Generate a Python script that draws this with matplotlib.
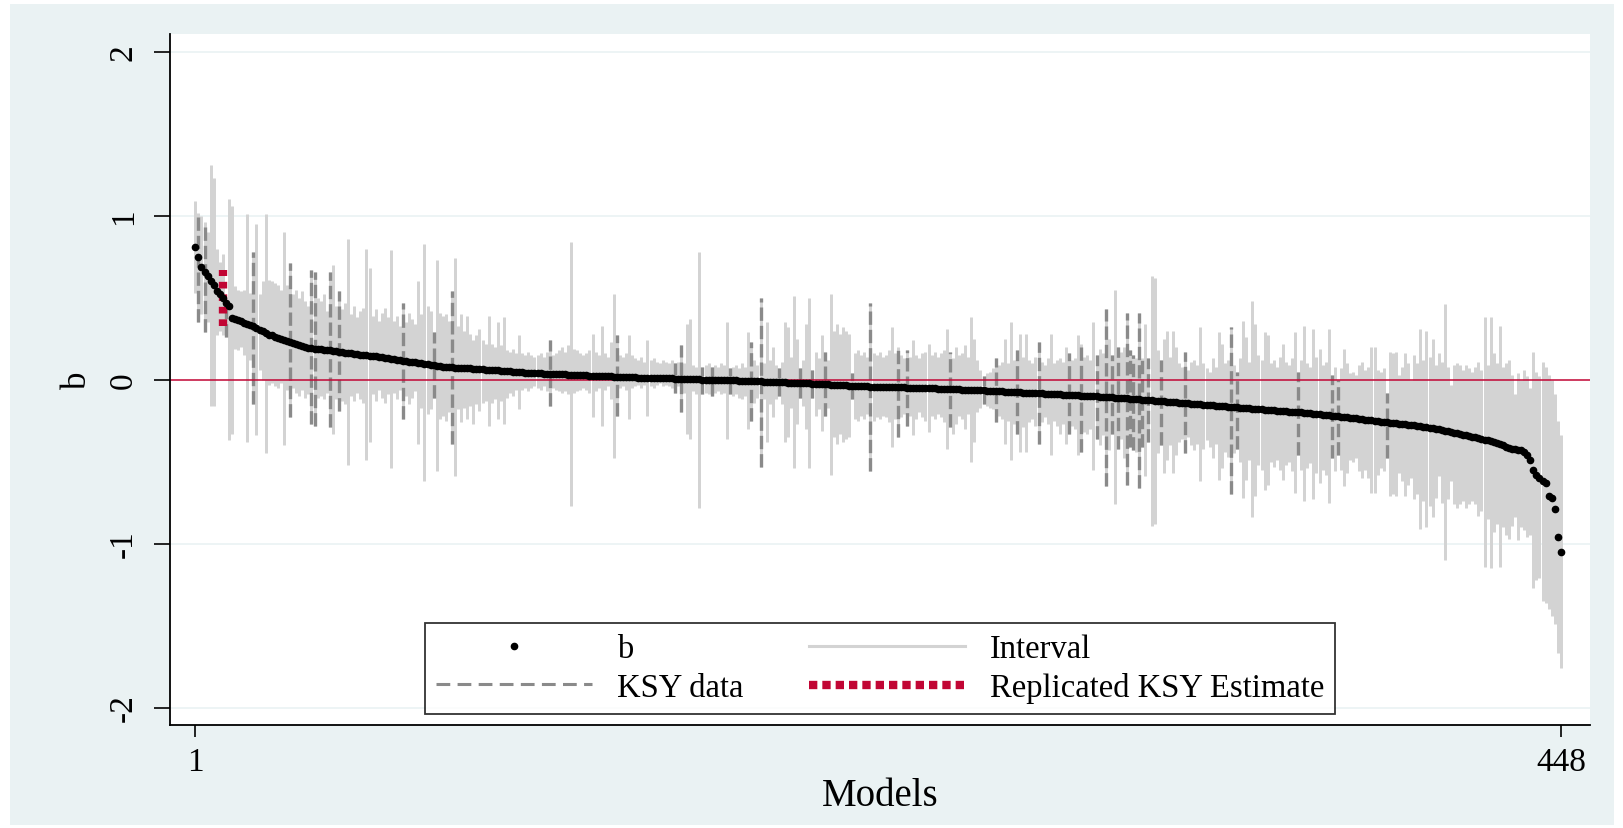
import numpy as np
import matplotlib
matplotlib.use("Agg")
import matplotlib.pyplot as plt
from matplotlib.lines import Line2D
from matplotlib.patches import Rectangle

plt.rcParams['font.family'] = ['Liberation Serif', 'DejaVu Serif']

# ---- data ----
n_models = 448
models = np.arange(1, n_models + 1)

# point estimates b, sorted high -> low (16 per row)
b = [
    0.81, 0.75, 0.69, 0.66, 0.63, 0.60, 0.58, 0.54, 0.52, 0.50, 0.47, 0.45, 0.375, 0.37, 0.365, 0.36,
    0.345, 0.34, 0.335, 0.325, 0.315, 0.305, 0.295, 0.285, 0.275, 0.27, 0.262, 0.255, 0.248, 0.24, 0.235, 0.23,
    0.225, 0.22, 0.213, 0.207, 0.2, 0.195, 0.192, 0.19, 0.188, 0.186, 0.184, 0.182, 0.18, 0.178, 0.175, 0.172,
    0.169, 0.166, 0.163, 0.16, 0.157, 0.155, 0.152, 0.15, 0.148, 0.146, 0.144, 0.142, 0.14, 0.138, 0.135, 0.132,
    0.129, 0.126, 0.123, 0.12, 0.117, 0.114, 0.111, 0.108, 0.106, 0.104, 0.1, 0.097, 0.094, 0.091, 0.088, 0.086,
    0.083, 0.08, 0.078, 0.076, 0.075, 0.074, 0.073, 0.072, 0.071, 0.07, 0.069, 0.068, 0.066, 0.065, 0.063, 0.062,
    0.061, 0.06, 0.058, 0.057, 0.055, 0.054, 0.052, 0.051, 0.05, 0.049, 0.047, 0.046, 0.044, 0.042, 0.041, 0.04,
    0.039, 0.038, 0.037, 0.036, 0.035, 0.035, 0.034, 0.033, 0.032, 0.032, 0.031, 0.03, 0.029, 0.028, 0.027, 0.026,
    0.026, 0.025, 0.024, 0.024, 0.023, 0.022, 0.021, 0.021, 0.02, 0.019, 0.018, 0.018, 0.017, 0.016, 0.015, 0.015,
    0.014, 0.013, 0.013, 0.012, 0.012, 0.011, 0.011, 0.01, 0.01, 0.009, 0.009, 0.008, 0.008, 0.007, 0.006, 0.006,
    0.005, 0.004, 0.004, 0.003, 0.003, 0.002, 0.001, 0.001, 0.0, -0.0, -0.001, -0.001, -0.002, -0.002, -0.003, -0.003,
    -0.004, -0.004, -0.005, -0.006, -0.006, -0.007, -0.008, -0.009, -0.009, -0.01, -0.011, -0.012, -0.012, -0.013, -0.014, -0.015,
    -0.016, -0.016, -0.017, -0.018, -0.019, -0.02, -0.02, -0.021, -0.022, -0.023, -0.024, -0.025, -0.026, -0.027, -0.028, -0.029,
    -0.03, -0.031, -0.032, -0.033, -0.034, -0.035, -0.036, -0.037, -0.038, -0.039, -0.04, -0.04, -0.041, -0.042, -0.042, -0.043,
    -0.043, -0.044, -0.044, -0.045, -0.045, -0.046, -0.046, -0.047, -0.047, -0.048, -0.048, -0.049, -0.049, -0.05, -0.05, -0.051,
    -0.051, -0.052, -0.053, -0.054, -0.054, -0.055, -0.056, -0.057, -0.057, -0.058, -0.059, -0.06, -0.06, -0.061, -0.062, -0.063,
    -0.064, -0.064, -0.065, -0.066, -0.067, -0.068, -0.069, -0.07, -0.071, -0.072, -0.073, -0.074, -0.075, -0.076, -0.077, -0.078,
    -0.079, -0.08, -0.081, -0.082, -0.083, -0.084, -0.085, -0.086, -0.087, -0.088, -0.089, -0.09, -0.091, -0.092, -0.093, -0.094,
    -0.095, -0.096, -0.097, -0.098, -0.099, -0.1, -0.101, -0.102, -0.103, -0.105, -0.106, -0.107, -0.108, -0.109, -0.11, -0.111,
    -0.113, -0.114, -0.116, -0.117, -0.119, -0.12, -0.122, -0.123, -0.125, -0.126, -0.128, -0.129, -0.131, -0.132, -0.134, -0.135,
    -0.137, -0.138, -0.14, -0.141, -0.143, -0.144, -0.146, -0.147, -0.149, -0.15, -0.152, -0.153, -0.155, -0.156, -0.158, -0.159,
    -0.161, -0.162, -0.164, -0.165, -0.167, -0.168, -0.17, -0.171, -0.173, -0.174, -0.176, -0.177, -0.179, -0.18, -0.182, -0.183,
    -0.185, -0.186, -0.188, -0.189, -0.191, -0.192, -0.194, -0.195, -0.197, -0.198, -0.2, -0.202, -0.204, -0.206, -0.208, -0.21,
    -0.212, -0.214, -0.216, -0.218, -0.22, -0.222, -0.224, -0.226, -0.228, -0.23, -0.232, -0.234, -0.236, -0.238, -0.24, -0.243,
    -0.245, -0.247, -0.25, -0.252, -0.255, -0.257, -0.259, -0.262, -0.264, -0.266, -0.268, -0.27, -0.272, -0.274, -0.276, -0.279,
    -0.282, -0.285, -0.288, -0.291, -0.294, -0.297, -0.3, -0.303, -0.307, -0.311, -0.315, -0.319, -0.323, -0.327, -0.331, -0.335,
    -0.339, -0.343, -0.347, -0.351, -0.355, -0.36, -0.365, -0.37, -0.375, -0.38, -0.385, -0.39, -0.4, -0.41, -0.415, -0.42,
    -0.425, -0.428, -0.43, -0.44, -0.46, -0.49, -0.55, -0.58, -0.6, -0.62, -0.63, -0.71, -0.72, -0.79, -0.96, -1.05,
]

# interval upper ends
ci_hi = [
    1.09, 1.02, 1.00, 0.96, 0.90, 1.31, 1.23, 0.80, 0.72, 0.77, 0.46, 1.10, 1.06, 0.57, 0.55, 0.54,
    0.55, 1.01, 0.53, 0.78, 0.95, 0.52, 0.60, 1.01, 0.61, 0.60, 0.59, 0.58, 0.55, 0.90, 0.58, 0.71,
    0.52, 0.55, 0.50, 0.54, 0.48, 0.45, 0.67, 0.66, 0.50, 0.48, 0.52, 0.42, 0.66, 0.70, 0.45, 0.54,
    0.43, 0.47, 0.86, 0.40, 0.45, 0.38, 0.42, 0.44, 0.80, 0.68, 0.39, 0.43, 0.36, 0.41, 0.44, 0.38,
    0.79, 0.36, 0.39, 0.33, 0.47, 0.35, 0.41, 0.37, 0.34, 0.60, 0.40, 0.83, 0.45, 0.42, 0.29, 0.73,
    0.41, 0.39, 0.40, 0.36, 0.54, 0.74, 0.33, 0.40, 0.30, 0.39, 0.28, 0.24, 0.27, 0.31, 0.24, 0.22,
    0.39, 0.22, 0.20, 0.35, 0.21, 0.38, 0.18, 0.17, 0.19, 0.16, 0.27, 0.16, 0.15, 0.17, 0.15, 0.14,
    0.15, 0.16, 0.14, 0.17, 0.24, 0.15, 0.16, 0.18, 0.20, 0.17, 0.21, 0.84, 0.19, 0.18, 0.16, 0.15,
    0.16, 0.18, 0.28, 0.17, 0.15, 0.33, 0.16, 0.14, 0.23, 0.52, 0.27, 0.15, 0.14, 0.16, 0.27, 0.15,
    0.13, 0.12, 0.14, 0.11, 0.24, 0.12, 0.13, 0.11, 0.10, 0.12, 0.11, 0.10, 0.12, 0.10, 0.11, 0.21,
    0.10, 0.34, 0.37, 0.09, 0.08, 0.78, 0.08, 0.09, 0.10, 0.08, 0.09, 0.08, 0.10, 0.09, 0.35, 0.07,
    0.08, 0.09, 0.07, 0.10, 0.08, 0.29, 0.23, 0.12, 0.09, 0.50, 0.10, 0.35, 0.12, 0.20, 0.09, 0.07,
    0.11, 0.35, 0.32, 0.14, 0.51, 0.25, 0.07, 0.12, 0.34, 0.50, 0.06, 0.17, 0.13, 0.27, 0.17, 0.12,
    0.52, 0.30, 0.34, 0.28, 0.32, 0.30, 0.28, 0.04, 0.16, 0.18, 0.15, 0.17, 0.14, 0.47, 0.16, 0.15,
    0.17, 0.14, 0.15, 0.18, 0.32, 0.16, 0.20, 0.15, 0.13, 0.18, 0.14, 0.24, 0.15, 0.13, 0.16, 0.17,
    0.22, 0.15, 0.17, 0.14, 0.16, 0.18, 0.31, 0.17, 0.13, 0.20, 0.15, 0.16, 0.21, 0.14, 0.38, 0.25,
    0.12, 0.06, 0.02, 0.04, 0.05, 0.07, 0.13, 0.09, 0.11, 0.25, 0.10, 0.35, 0.12, 0.18, 0.28, 0.14,
    0.28, 0.12, 0.10, 0.14, 0.23, 0.11, 0.09, 0.13, 0.28, 0.10, 0.12, 0.13, 0.11, 0.20, 0.16, 0.12,
    0.13, 0.27, 0.22, 0.14, 0.15, 0.12, 0.35, 0.15, 0.19, 0.16, 0.43, 0.25, 0.15, 0.55, 0.20, 0.17,
    0.20, 0.41, 0.18, 0.15, 0.13, 0.41, 0.13, 0.34, 0.13, 0.63, 0.62, 0.18, 0.12, 0.25, 0.30, 0.14,
    0.30, 0.20, 0.10, 0.08, 0.17, 0.06, 0.11, 0.12, 0.09, 0.32, 0.10, 0.07, 0.05, 0.13, 0.08, 0.29,
    0.22, 0.10, 0.12, 0.32, 0.09, 0.05, 0.13, 0.36, 0.26, 0.11, 0.48, 0.34, 0.15, 0.12, 0.29, 0.27,
    0.10, 0.12, 0.08, 0.14, 0.22, 0.11, 0.09, 0.13, 0.29, 0.05, 0.12, 0.33, 0.10, 0.08, 0.31, 0.14,
    0.19, 0.09, 0.11, 0.31, 0.03, 0.08, 0.00, 0.07, 0.19, 0.10, 0.04, 0.05, 0.03, 0.09, 0.11, 0.06,
    0.08, 0.20, 0.20, 0.06, 0.05, 0.07, -0.08, 0.17, 0.16, 0.17, 0.03, 0.08, 0.16, 0.10, 0.00, 0.15,
    0.10, 0.31, 0.12, 0.30, 0.14, 0.25, 0.09, 0.16, 0.11, 0.46, 0.08, -0.03, 0.09, 0.10, 0.09, 0.06,
    0.09, 0.07, 0.05, 0.08, 0.11, 0.06, 0.38, 0.09, 0.38, 0.16, 0.10, 0.33, 0.08, 0.10, 0.12, 0.03,
    -0.09, 0.04, 0.00, 0.06, 0.02, -0.05, 0.17, 0.05, 0.02, 0.11, 0.08, 0.03, 0.00, -0.09, -0.25, -0.34,
]

# interval lower ends
ci_lo = [
    0.53, 0.35, 0.40, 0.29, 0.35, -0.16, -0.16, 0.27, 0.30, 0.27, 0.26, -0.37, -0.33, 0.19, 0.18, 0.20,
    0.15, -0.38, 0.12, -0.15, -0.34, 0.06, 0.00, -0.45, -0.03, -0.02, -0.04, -0.05, -0.02, -0.40, -0.06, -0.23,
    -0.05, -0.08, -0.10, -0.06, -0.11, -0.09, -0.27, -0.28, -0.11, -0.10, -0.12, -0.08, -0.29, -0.33, -0.12, -0.19,
    -0.13, -0.15, -0.52, -0.10, -0.13, -0.08, -0.12, -0.14, -0.49, -0.38, -0.09, -0.13, -0.06, -0.11, -0.14, -0.09,
    -0.54, -0.08, -0.12, -0.06, -0.24, -0.10, -0.15, -0.11, -0.07, -0.39, -0.17, -0.62, -0.21, -0.18, -0.11, -0.56,
    -0.24, -0.22, -0.25, -0.20, -0.39, -0.59, -0.18, -0.26, -0.17, -0.24, -0.16, -0.27, -0.15, -0.19, -0.14, -0.13,
    -0.28, -0.14, -0.12, -0.24, -0.13, -0.27, -0.11, -0.08, -0.10, -0.06, -0.18, -0.06, -0.05, -0.07, -0.05, -0.04,
    -0.05, -0.06, -0.04, -0.07, -0.16, -0.05, -0.06, -0.07, -0.08, -0.07, -0.09, -0.77, -0.08, -0.07, -0.06, -0.05,
    -0.06, -0.08, -0.23, -0.07, -0.05, -0.28, -0.06, -0.04, -0.12, -0.48, -0.22, -0.05, -0.04, -0.06, -0.24, -0.05,
    -0.04, -0.03, -0.05, -0.03, -0.22, -0.04, -0.05, -0.03, -0.02, -0.04, -0.03, -0.04, -0.05, -0.08, -0.04, -0.20,
    -0.08, -0.33, -0.36, -0.07, -0.09, -0.78, -0.09, -0.08, -0.09, -0.10, -0.08, -0.07, -0.09, -0.08, -0.36, -0.09,
    -0.10, -0.09, -0.11, -0.12, -0.10, -0.30, -0.25, -0.14, -0.11, -0.53, -0.12, -0.38, -0.15, -0.23, -0.12, -0.10,
    -0.15, -0.38, -0.35, -0.17, -0.54, -0.27, -0.11, -0.16, -0.30, -0.54, -0.11, -0.22, -0.18, -0.31, -0.22, -0.17,
    -0.58, -0.35, -0.39, -0.33, -0.38, -0.36, -0.35, -0.12, -0.24, -0.25, -0.22, -0.24, -0.21, -0.56, -0.25, -0.23,
    -0.24, -0.22, -0.23, -0.26, -0.41, -0.24, -0.35, -0.23, -0.21, -0.28, -0.22, -0.34, -0.24, -0.20, -0.23, -0.25,
    -0.32, -0.22, -0.24, -0.21, -0.23, -0.26, -0.42, -0.29, -0.33, -0.27, -0.22, -0.24, -0.30, -0.21, -0.50, -0.38,
    -0.20, -0.17, -0.15, -0.16, -0.17, -0.18, -0.26, -0.22, -0.24, -0.39, -0.25, -0.49, -0.27, -0.33, -0.44, -0.29,
    -0.44, -0.26, -0.24, -0.28, -0.39, -0.26, -0.23, -0.27, -0.46, -0.25, -0.28, -0.33, -0.27, -0.39, -0.33, -0.28,
    -0.30, -0.46, -0.44, -0.32, -0.33, -0.30, -0.55, -0.36, -0.40, -0.34, -0.65, -0.43, -0.33, -0.76, -0.42, -0.36,
    -0.48, -0.64, -0.41, -0.43, -0.44, -0.66, -0.41, -0.59, -0.38, -0.89, -0.88, -0.45, -0.40, -0.57, -0.49, -0.40,
    -0.57, -0.46, -0.38, -0.36, -0.45, -0.35, -0.40, -0.43, -0.39, -0.62, -0.42, -0.37, -0.41, -0.48, -0.39, -0.61,
    -0.54, -0.44, -0.47, -0.70, -0.45, -0.42, -0.50, -0.72, -0.61, -0.49, -0.84, -0.71, -0.52, -0.55, -0.67, -0.64,
    -0.50, -0.53, -0.49, -0.55, -0.61, -0.52, -0.50, -0.56, -0.69, -0.46, -0.55, -0.74, -0.54, -0.51, -0.73, -0.57,
    -0.63, -0.55, -0.58, -0.75, -0.48, -0.56, -0.46, -0.55, -0.65, -0.57, -0.49, -0.50, -0.48, -0.56, -0.60, -0.55,
    -0.60, -0.69, -0.69, -0.58, -0.54, -0.56, -0.48, -0.71, -0.70, -0.71, -0.57, -0.62, -0.71, -0.64, -0.60, -0.73,
    -0.70, -0.91, -0.74, -0.90, -0.77, -0.84, -0.72, -0.59, -0.75, -1.10, -0.73, -0.62, -0.76, -0.78, -0.76, -0.74,
    -0.78, -0.76, -0.74, -0.76, -0.83, -0.80, -1.14, -0.85, -1.15, -0.93, -0.88, -1.14, -0.90, -0.95, -0.97, -0.89,
    -0.84, -0.98, -0.90, -0.92, -0.96, -0.95, -1.27, -1.22, -1.21, -1.35, -1.36, -1.40, -1.44, -1.49, -1.67, -1.76,
]

# models that use the KSY data (drawn dashed)
ksy_models = [2, 4, 11, 20, 32, 39, 40, 45, 48, 69, 79, 85, 117, 139, 158, 160, 167, 170, 176,
              183, 186, 192, 199, 203, 207, 216, 222, 231, 234, 248, 259, 263, 270, 277, 287,
              291, 296, 299, 301, 303, 306, 307, 308, 310, 311, 313, 317, 325, 340, 342, 362,
              373, 375, 391]

# replicated KSY estimate
rep_model = [10]
rep_lo = [0.33]
rep_hi = [0.67]

assert len(b) == n_models and len(ci_hi) == n_models and len(ci_lo) == n_models

b = np.array(b)
ci_hi = np.array(ci_hi)
ci_lo = np.array(ci_lo)
ksy_idx = np.array(ksy_models) - 1

# ---- colours ----
bg = '#EAF2F3'
gray_ci = '#D3D3D3'
gray_ksy = '#8A8A8A'
red = '#C10534'

fig = plt.figure(figsize=(16.24, 8.29), dpi=100)
fig.patch.set_facecolor('white')
fig.add_artist(Rectangle((0.006, 0.004), 0.988, 0.99, transform=fig.transFigure,
                         facecolor=bg, edgecolor='none', zorder=-10))
ax = fig.add_axes([0.1047, 0.1242, 0.8743, 0.8331])
ax.set_facecolor('white')

for yy in [-2, -1, 1, 2]:
    ax.axhline(yy, color=bg, lw=1.2, zorder=0)

ax.vlines(models, ci_lo, ci_hi, color=gray_ci, lw=2.15, zorder=1)
ax.vlines(models[ksy_idx], ci_lo[ksy_idx], ci_hi[ksy_idx], color=gray_ksy, lw=2.4,
          linestyles=(0, (4, 1.5)), zorder=2)
ax.axhline(0, color=red, lw=1.1, zorder=2.5)
ax.vlines(rep_model, rep_lo, rep_hi, color=red, lw=6, linestyles=(0, (0.8, 0.7)), zorder=3)
ax.plot(models, b, 'o', color='black', ms=4.5, zorder=4)

ax.set_xlim(-7.3, 457.5)
ax.set_ylim(-2.107, 2.107)
ax.set_yticks([-2, -1, 0, 1, 2])
ax.set_yticklabels(['-2', '-1', '0', '1', '2'], rotation=90, va='center')
ax.set_xticks([1, 448])
ax.set_xticklabels(['1', '448'])
ax.tick_params(axis='y', length=11.5, width=1.2, pad=11, labelsize=24)
ax.tick_params(axis='x', length=8.5, width=1.2, pad=7, labelsize=24)
for side in ['top', 'right']:
    ax.spines[side].set_visible(False)
for side in ['left', 'bottom']:
    ax.spines[side].set_linewidth(1.3)

ax.set_ylabel('b', fontsize=25, labelpad=10)
ax.set_xlabel('Models', fontsize=28, labelpad=0)

handles = [
    Line2D([], [], ls='none', marker='o', color='black', ms=4.5),
    Line2D([], [], color=gray_ksy, lw=2.2, ls=(0, (4.5, 2.4))),
    Line2D([], [], color=gray_ci, lw=2.2),
    Line2D([], [], color=red, lw=6, ls=(0, (1.0, 0.6))),
]
labels = ['b', 'KSY data', 'Interval', 'Replicated KSY Estimate']
leg = ax.legend(handles, labels, loc='lower center', bbox_to_anchor=(0.5, 0.0163), ncol=2,
                fontsize=23.5, frameon=True, fancybox=False, edgecolor='black',
                handlelength=4.8, handletextpad=0.75, columnspacing=2.0,
                borderpad=0.32, labelspacing=0.25, borderaxespad=0, numpoints=1)
leg.get_frame().set_linewidth(1.3)

fig.savefig('out.png', dpi=100, facecolor=fig.get_facecolor())
